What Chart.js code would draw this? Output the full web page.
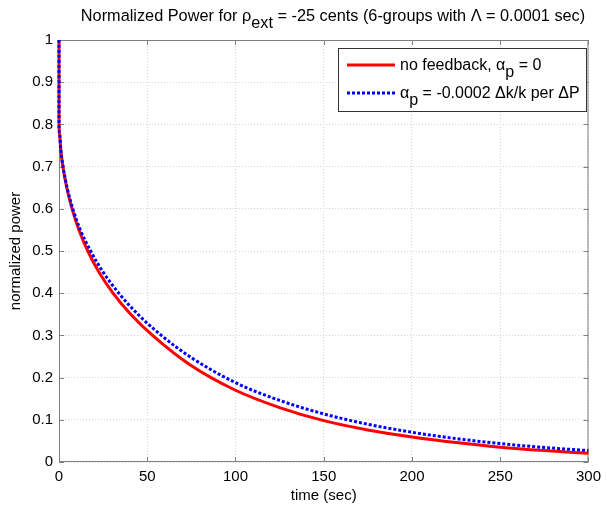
<!DOCTYPE html>
<html>
<head>
<meta charset="utf-8">
<script src="https://cdn.jsdelivr.net/npm/chart.js@4"></script>
<style>
  html, body { margin: 0; padding: 0; background: #fff; }
  #wrap { width: 607px; height: 505px; }
</style>
</head>
<body>
<div id="wrap"><canvas id="chart" width="607" height="505"></canvas></div>
<script>
/* values */
const timeNoFb  = [0, 0.02, 0.25, 1, 2.2, 4.4, 7.4, 11.3, 16.3, 22.6, 30.6, 40.6, 53, 74, 100, 125, 150, 175, 200, 225, 250, 275, 300];
const powerNoFb = [1, 0.80, 0.78, 0.74, 0.70, 0.65, 0.60, 0.55, 0.50, 0.45, 0.40, 0.35, 0.30, 0.231, 0.170, 0.129, 0.098, 0.076, 0.0595, 0.046, 0.035, 0.027, 0.0205];

const timeFb  = [0, 0.02, 0.25, 1, 2.3, 4.6, 7.8, 12.1, 17.9, 25, 33.9, 44.7, 58, 74, 100, 125, 150, 175, 200, 225, 250, 275, 300];
const powerFb = [1, 0.80, 0.78, 0.74, 0.70, 0.65, 0.60, 0.55, 0.50, 0.45, 0.40, 0.35, 0.30, 0.25, 0.188, 0.146, 0.114, 0.0895, 0.0705, 0.0555, 0.0437, 0.0344, 0.027];

const xTicks = [0, 50, 100, 150, 200, 250, 300];
const yTicks = [0, 0.1, 0.2, 0.3, 0.4, 0.5, 0.6, 0.7, 0.8, 0.9, 1];

const FONT = '"Liberation Sans", Arial, Helvetica, sans-serif';

// pieces of text with subscripts: {t, sub}
const titleParts = [
    { t: 'Normalized Power for ' }, { t: 'ρ' }, { t: 'ext', sub: true },
    { t: ' = -25 cents (6-groups with Λ = 0.0001 sec)' }
];
const legendItems = [
    { color: 'red', dash: [], parts: [{ t: 'no feedback, ' }, { t: 'α' }, { t: 'p', sub: true }, { t: ' = 0' }] },
    { color: 'blue', dash: [3, 2], parts: [{ t: 'α' }, { t: 'p', sub: true }, { t: ' = -0.0002 Δk/k per ΔP' }] }
];

// subscripts in the reference are the same size as the text, just lower
function richWidth(ctx, parts, size) {
    let w = 0;
    ctx.font = size + 'px ' + FONT;
    parts.forEach(p => { w += ctx.measureText(p.t).width; });
    return w;
}

function drawRich(ctx, parts, x, y, size) {
    ctx.textAlign = 'left';
    ctx.textBaseline = 'alphabetic';
    ctx.font = size + 'px ' + FONT;
    parts.forEach(p => {
        ctx.fillText(p.t, x, p.sub ? y + size * 0.42 : y);
        x += ctx.measureText(p.t).width;
    });
}

/* MATLAB-like frame, inward ticks, title, axis labels and legend */
const matlabFrame = {
    id: 'matlabFrame',
    beforeDatasetsDraw(chart) {
        const ctx = chart.ctx;
        const a = chart.chartArea;
        const xs = chart.scales.x, ys = chart.scales.y;
        ctx.save();
        ctx.strokeStyle = '#7f7f7f';
        ctx.lineWidth = 1;
        ctx.strokeRect(a.left + 0.5, a.top + 0.5, a.right - a.left - 1, a.bottom - a.top - 1);
        ctx.beginPath();
        xTicks.forEach(v => {
            const px = Math.round(xs.getPixelForValue(v)) + 0.5;
            ctx.moveTo(px, a.bottom); ctx.lineTo(px, a.bottom - 5);
            ctx.moveTo(px, a.top); ctx.lineTo(px, a.top + 5);
        });
        yTicks.forEach(v => {
            const py = Math.round(ys.getPixelForValue(v)) + 0.5;
            ctx.moveTo(a.left, py); ctx.lineTo(a.left + 5, py);
            ctx.moveTo(a.right, py); ctx.lineTo(a.right - 5, py);
        });
        ctx.stroke();
        ctx.restore();
    },
    afterDraw(chart) {
        const ctx = chart.ctx;
        const a = chart.chartArea;
        ctx.save();
        ctx.fillStyle = '#000';

        // title
        const tSize = 16.3;
        const tw = richWidth(ctx, titleParts, tSize);
        drawRich(ctx, titleParts, 333 - tw / 2, 21, tSize);

        // axis labels
        ctx.font = '15px ' + FONT;
        ctx.textAlign = 'center';
        ctx.textBaseline = 'middle';
        ctx.fillText('time (sec)', (a.left + a.right) / 2, 496);
        ctx.save();
        ctx.translate(16, (a.top + a.bottom) / 2);
        ctx.rotate(-Math.PI / 2);
        ctx.fillText('normalized power', 0, 0);
        ctx.restore();

        // legend box
        const lx = 338, ly = 48, lw = 248, lh = 63;
        ctx.fillStyle = '#fff';
        ctx.fillRect(lx, ly, lw, lh);
        ctx.strokeStyle = '#333';
        ctx.lineWidth = 1;
        ctx.strokeRect(lx + 0.5, ly + 0.5, lw, lh);
        legendItems.forEach((item, i) => {
            const yLine = 65 + i * 28;
            ctx.strokeStyle = item.color;
            ctx.lineWidth = 3;
            ctx.setLineDash(item.dash);
            ctx.beginPath();
            ctx.moveTo(347, yLine);
            ctx.lineTo(395, yLine);
            ctx.stroke();
            ctx.setLineDash([]);
            ctx.fillStyle = '#000';
            drawRich(ctx, item.parts, 400, yLine + 5, 16);
        });
        ctx.restore();
    }
};

const toPoints = (xs, ys) => xs.map((x, i) => ({ x: x, y: ys[i] }));

new Chart(document.getElementById('chart'), {
    type: 'line',
    data: {
        datasets: [
            {
                label: 'no feedback',
                data: toPoints(timeNoFb, powerNoFb),
                borderColor: 'red',
                borderWidth: 3,
                pointRadius: 0,
                cubicInterpolationMode: 'monotone',
                clip: false,
                order: 1
            },
            {
                label: 'feedback',
                data: toPoints(timeFb, powerFb),
                borderColor: 'blue',
                borderWidth: 3,
                borderDash: [3, 2],
                pointRadius: 0,
                cubicInterpolationMode: 'monotone',
                clip: false,
                order: 0
            }
        ]
    },
    options: {
        responsive: false,
        animation: false,
        devicePixelRatio: 1,
        layout: { padding: { top: 40, right: 14, left: 0, bottom: 0 } },
        plugins: {
            legend: { display: false },
            tooltip: { enabled: false },
            title: { display: false }
        },
        scales: {
            x: {
                type: 'linear',
                min: 0,
                max: 300,
                afterFit: s => { s.height = 43; },
                afterBuildTicks: s => { s.ticks = xTicks.map(v => ({ value: v })); },
                ticks: {
                    color: '#000',
                    font: { family: FONT, size: 15 },
                    padding: 6,
                    maxRotation: 0,
                    autoSkip: false,
                    callback: v => String(v)
                },
                grid: { color: '#d4d4d4', drawTicks: false },
                border: { display: false, dash: [1, 2] }
            },
            y: {
                type: 'linear',
                min: 0,
                max: 1,
                afterFit: s => { s.width = 59; },
                afterBuildTicks: s => { s.ticks = yTicks.map(v => ({ value: v })); },
                ticks: {
                    color: '#000',
                    font: { family: FONT, size: 15 },
                    padding: 6,
                    autoSkip: false,
                    callback: v => String(+v.toFixed(1))
                },
                grid: { color: '#d4d4d4', drawTicks: false },
                border: { display: false, dash: [1, 2] }
            }
        }
    },
    plugins: [matlabFrame]
});
</script>
</body>
</html>
